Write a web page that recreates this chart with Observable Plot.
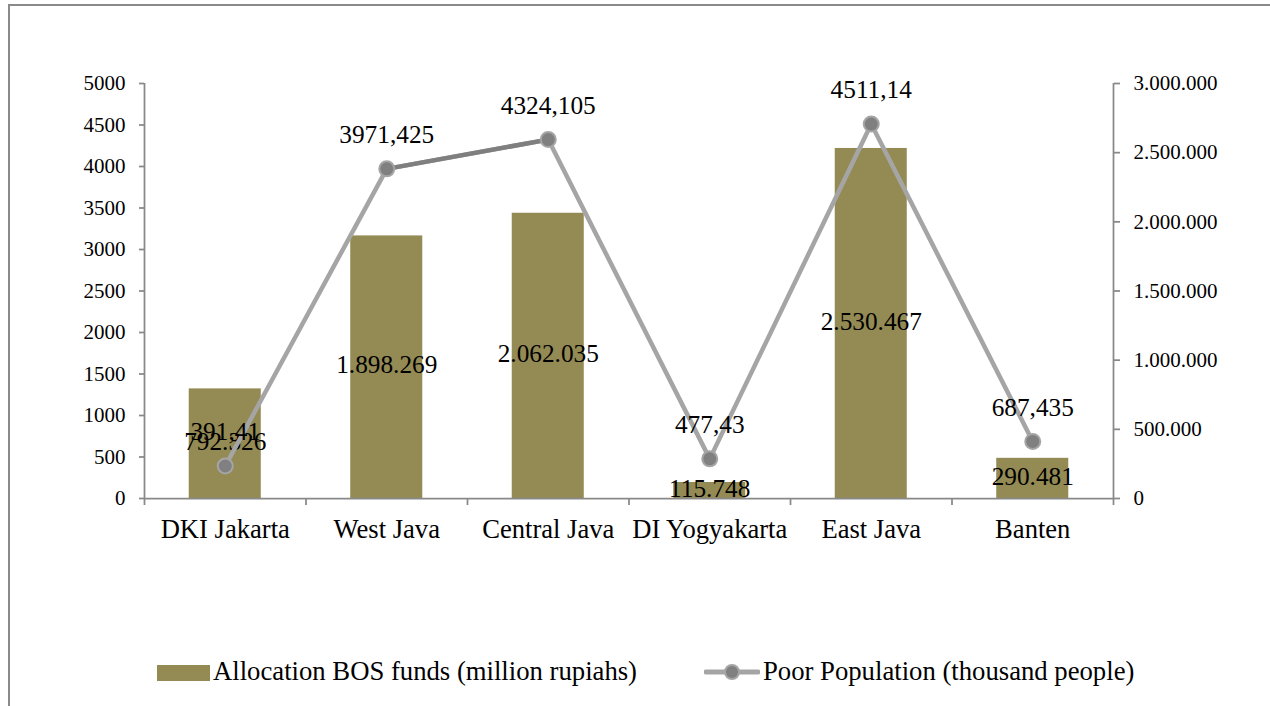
<!DOCTYPE html>
<html><head><meta charset="utf-8">
<script src="https://cdn.jsdelivr.net/npm/d3@7"></script>
<script src="https://cdn.jsdelivr.net/npm/@observablehq/plot@0.6"></script>
<style>
body{margin:0;background:#fff;font-family:"Liberation Serif","Times New Roman",serif;}
#frame{position:absolute;left:8px;top:4px;width:1400px;height:900px;border:2px solid #8a8a8a;box-sizing:border-box;}
#chart{position:absolute;left:0;top:0;}
#chart svg, #chart svg text{font-family:"Liberation Serif","Times New Roman",serif !important;}
.leg{position:absolute;font-size:26.7px;color:#000;white-space:nowrap;line-height:30px;}
</style>
</head><body>
<div id="frame"></div>
<div id="chart"></div>
<div class="leg" style="left:157px;top:656px;">
  <span style="display:inline-block;width:53px;height:16px;background:#948a54;vertical-align:-1px;"></span><span style="margin-left:3px;">Allocation BOS funds (million rupiahs)</span>
</div>
<div class="leg" style="left:704px;top:656px;">
  <svg width="56" height="20" style="vertical-align:-2px;"><line x1="2" y1="10" x2="54" y2="10" stroke="#a5a5a5" stroke-width="5" stroke-linecap="round"/><circle cx="28" cy="10" r="7" fill="#808080" stroke="#a5a5a5" stroke-width="2"/></svg><span style="margin-left:3px;">Poor Population (thousand people)</span>
</div>
<script>
const provinces = ["DKI Jakarta","West Java","Central Java","DI Yogyakarta","East Java","Banten"];
const bosFunds = [792326, 1898269, 2062035, 115748, 2530467, 290481];
const poorPopulation = [391.41, 3971.425, 4324.105, 477.43, 4511.14, 687.435];
const leftTicks = [0,500,1000,1500,2000,2500,3000,3500,4000,4500,5000];
const rightTicks = [0,500000,1000000,1500000,2000000,2500000,3000000];

const leftMax = 5000, rightMax = 3000000;
const toLeft = v => v * leftMax / rightMax;
const idFmt = d3.formatLocale({decimal:",", thousands:".", grouping:[3], currency:["",""]}).format(",d");
const commaDec = v => String(v).replace(".", ",");

const data = provinces.map((p, i) => ({i, p, bos: bosFunds[i], poor: poorPopulation[i]}));
const highlight = data.filter(d => d.p === "West Java" || d.p === "Central Java");
const boundaries = d3.range(-0.5, provinces.length, 1);

const axisColor = "#898989";
const chart = Plot.plot({
  width: 1270,
  height: 640,
  marginLeft: 144,
  marginRight: 157,
  marginTop: 83,
  marginBottom: 142,
  style: {background: "transparent", color: "#000"},
  x: {domain: [-0.5, provinces.length - 0.5]},
  y: {domain: [0, leftMax]},
  marks: [
    Plot.rectY(data, {x1: d => d.i - 0.223, x2: d => d.i + 0.223, y1: 0, y2: d => toLeft(d.bos), fill: "#948a54"}),
    Plot.axisY({anchor: "left", ticks: leftTicks, tickFormat: d => String(d), tickSize: 5, tickPadding: 14, fontSize: 21, stroke: axisColor, strokeWidth: 1.75, fill: "#000", label: null}),
    Plot.axisY({anchor: "right", ticks: rightTicks.map(toLeft), tickFormat: d => idFmt(Math.round(d * rightMax / leftMax)), tickSize: 6, tickPadding: 14, fontSize: 21, stroke: axisColor, strokeWidth: 1.75, fill: "#000", label: null}),
    Plot.ruleX([-0.5, provinces.length - 0.5], {y1: 0, y2: leftMax, stroke: axisColor, strokeWidth: 1.75}),
    Plot.ruleY([0], {stroke: axisColor, strokeWidth: 1.75}),
    Plot.axisX({ticks: boundaries, tickFormat: () => "", tickSize: 7, stroke: axisColor, strokeWidth: 1.75, label: null}),
    Plot.axisX({ticks: data.map(d => d.i), tickFormat: i => provinces[i], tickSize: 0, tickPadding: 21, fontSize: 26.6, fill: "#000", label: null}),
    Plot.text(data, {x: "i", y: d => toLeft(d.bos) / 2, dy: -2, text: d => idFmt(d.bos), fontSize: 25.3, fill: "#000"}),
    Plot.line(data, {x: "i", y: "poor", stroke: "#a5a5a5", strokeWidth: 4.5}),
    Plot.line(highlight, {x: "i", y: "poor", stroke: "#7f7f7f", strokeWidth: 4.5}),
    Plot.dot(data, {x: "i", y: "poor", r: 7.5, fill: "#808080", stroke: "#a5a5a5", strokeWidth: 2}),
    Plot.text(data, {x: "i", y: "poor", dy: -34, text: d => commaDec(d.poor), fontSize: 25.3, fill: "#000"})
  ]
});
document.getElementById("chart").appendChild(chart);
</script>
</body></html>
